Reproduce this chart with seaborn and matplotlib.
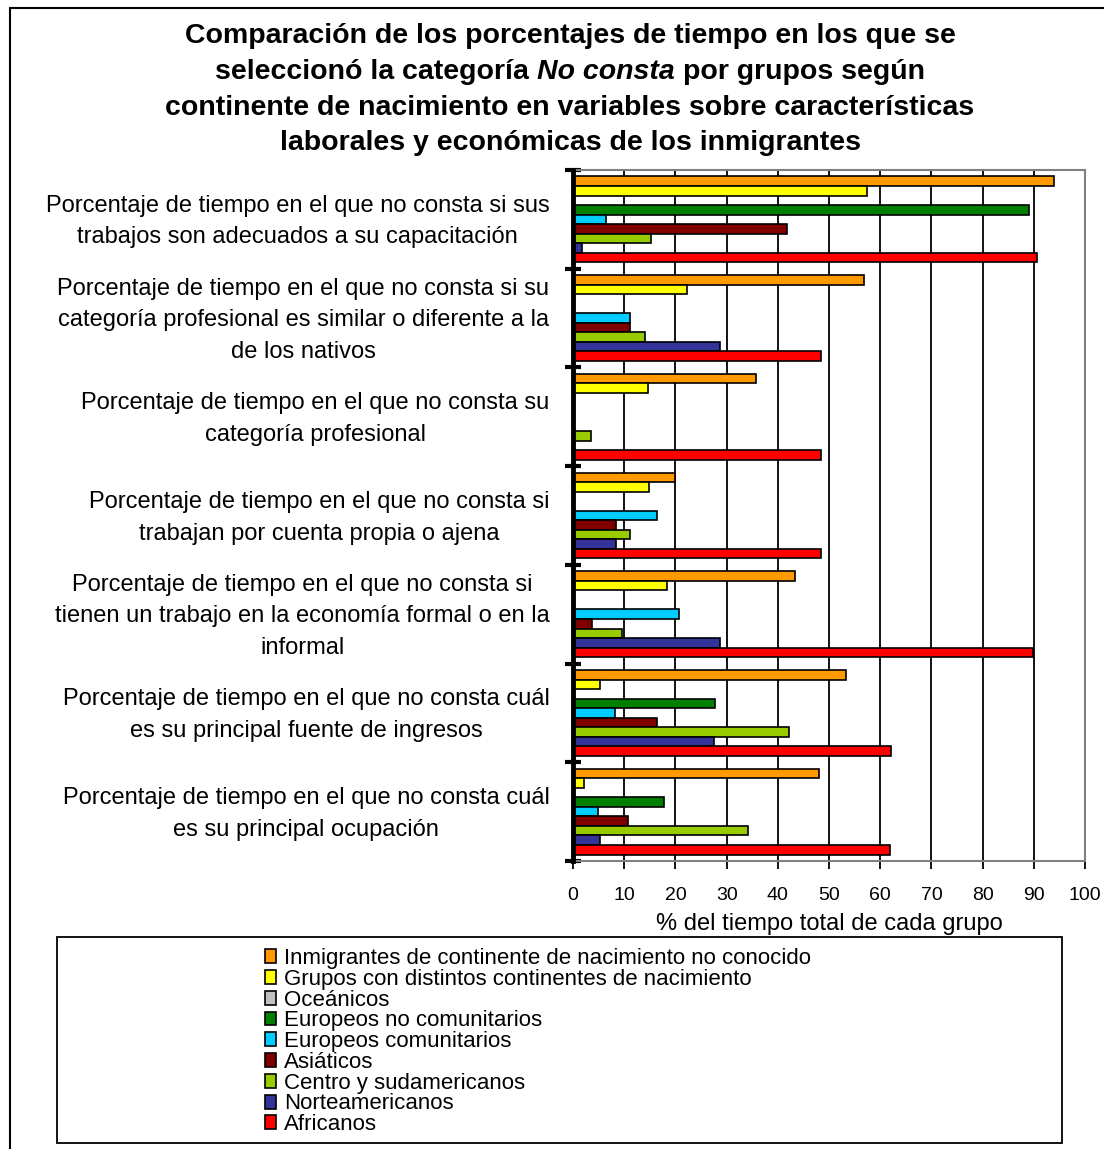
import matplotlib
matplotlib.use("Agg")
import matplotlib.pyplot as plt
import matplotlib.transforms as mtransforms
import seaborn as sns
import pandas as pd
import numpy as np
from matplotlib.patches import Patch, Rectangle
from matplotlib.lines import Line2D

categories = [
    "Porcentaje de tiempo en el que no consta si sus\ntrabajos son adecuados a su capacitación",
    "Porcentaje de tiempo en el que no consta si su\ncategoría profesional es similar o diferente a la\nde los nativos",
    "Porcentaje de tiempo en el que no consta su\ncategoría profesional",
    "Porcentaje de tiempo en el que no consta si\ntrabajan por cuenta propia o ajena",
    "Porcentaje de tiempo en el que no consta si\ntienen un trabajo en la economía formal o en la\ninformal",
    "Porcentaje de tiempo en el que no consta cuál\nes su principal fuente de ingresos",
    "Porcentaje de tiempo en el que no consta cuál\nes su principal ocupación",
]

series = [
    "Inmigrantes de continente de nacimiento no conocido",
    "Grupos con distintos continentes de nacimiento",
    "Oceánicos",
    "Europeos no comunitarios",
    "Europeos comunitarios",
    "Asiáticos",
    "Centro y sudamericanos",
    "Norteamericanos",
    "Africanos",
]

colors = ["#FF9900", "#FFFF00", "#C0C0C0", "#008000", "#00CCFF",
          "#800000", "#99CC00", "#333399", "#FF0000"]

v_no_conocido = [94.0, 56.8, 35.7, 20.0, 43.4, 53.3, 48.0]
v_distintos = [57.5, 22.3, 14.6, 14.9, 18.4, 5.3, 2.2]
v_oceanicos = [0, 0, 0, 0, 0, 0, 0]
v_eur_no_com = [89.1, 0, 0, 0, 0, 27.7, 17.7]
v_eur_com = [6.4, 11.1, 0, 16.5, 20.7, 8.3, 4.8]
v_asiaticos = [41.7, 11.1, 0, 8.4, 3.8, 16.5, 10.7]
v_centro_sud = [15.3, 14.1, 3.5, 11.1, 9.5, 42.1, 34.2]
v_norte = [1.8, 28.7, 0, 8.4, 28.7, 27.5, 5.3]
v_africanos = [90.6, 48.5, 48.5, 48.5, 89.9, 62.1, 61.9]

values = [v_no_conocido, v_distintos, v_oceanicos, v_eur_no_com, v_eur_com,
          v_asiaticos, v_centro_sud, v_norte, v_africanos]

x_ticks = list(range(0, 101, 10))
x_label = "% del tiempo total de cada grupo"
title_lines = [
    "Comparación de los porcentajes de tiempo en los que se",
    None,
    "continente de nacimiento en variables sobre características",
    "laborales y económicas de los inmigrantes",
]
title_line2 = [("seleccionó la categoría", "normal"), ("No consta", "italic"),
               ("por grupos según", "normal")]

rows = []
for s, vals in zip(series, values):
    for c, v in zip(categories, vals):
        rows.append({"categoria": c, "grupo": s, "valor": v})
df = pd.DataFrame(rows)

sns.set_style("white")
plt.rcParams["font.family"] = ["Liberation Sans", "DejaVu Sans"]
plt.rcParams["text.color"] = "black"
plt.rcParams["axes.labelcolor"] = "black"
plt.rcParams["xtick.color"] = "black"
plt.rcParams["ytick.color"] = "black"

W, H = 1104, 1149
fig = plt.figure(figsize=(W / 100, H / 100), dpi=100)
ax = fig.add_axes([573 / W, 1 - 861 / H, (1085 - 573) / W, (861 - 170) / H])

sns.barplot(data=df, x="valor", y="categoria", hue="grupo", order=categories,
            hue_order=series, palette=colors, orient="h", width=0.87,
            edgecolor="black", linewidth=1.2, saturation=1, errorbar=None,
            legend=False, ax=ax)

ax.set_xlim(0, 100)
ax.set_ylim(len(categories) - 0.5, -0.5)
ax.set_xticks(x_ticks)
ax.set_xticklabels([str(t) for t in x_ticks], fontsize=14)
ax.xaxis.grid(True, color="black", linewidth=1.3)
ax.yaxis.grid(False)
ax.set_axisbelow(True)
ax.set_xlabel(x_label, fontsize=17, labelpad=6)
ax.set_ylabel("")

ax.set_yticks(range(len(categories)))
ax.set_yticklabels(categories, fontsize=17, multialignment="center",
                   linespacing=1.56)
ax.set_yticks(np.arange(-0.5, len(categories), 1), minor=True)
ax.tick_params(axis="y", which="major", length=0, pad=17)
ax.tick_params(axis="y", which="minor", length=11, width=3, direction="inout",
               color="black", left=True)
ax.tick_params(axis="x", which="major", length=6, width=1.3, direction="out",
               color="black", bottom=True, pad=13)

shift_up = mtransforms.ScaledTranslation(0, 5 / 100, fig.dpi_scale_trans)
for lab in ax.get_yticklabels():
    lab.set_transform(lab.get_transform() + shift_up)

for side in ["top", "right", "bottom"]:
    ax.spines[side].set_color("#808080")
    ax.spines[side].set_linewidth(1.5)
ax.spines["left"].set_color("black")
ax.spines["left"].set_linewidth(3.5)
ax.spines["left"].set_zorder(5)

# title
TFS = 20.5
cx = 570 / W
ys = [36, 72, 108, 143]
for line, y in zip(title_lines, ys):
    if line is not None:
        fig.text(cx, 1 - y / H, line, ha="center", va="center", fontsize=TFS,
                 fontweight="bold")

renderer = fig.canvas.get_renderer()
def text_width(s, style):
    t = fig.text(0, 0, s, fontsize=TFS, fontweight="bold", fontstyle=style)
    w = t.get_window_extent(renderer).width
    t.remove()
    return w

space = text_width("a a", "normal") - text_width("aa", "normal")
widths = [text_width(s, st) for s, st in title_line2]
total = sum(widths) + space * (len(widths) - 1)
x0 = cx * W - total / 2
for (s, st), w in zip(title_line2, widths):
    fig.text(x0 / W, 1 - ys[1] / H, s, ha="left", va="center", fontsize=TFS,
             fontweight="bold", fontstyle=st)
    x0 += w + space

# legend
handles = [Patch(facecolor=c, edgecolor="black", linewidth=1.2) for c in colors]
fig.legend(handles, series, loc="upper left",
           bbox_to_anchor=(265 / W, 1 - 948 / H), bbox_transform=fig.transFigure,
           frameon=False, fontsize=16, labelspacing=-0.01, handlelength=0.48,
           handleheight=0.58, handletextpad=0.38, borderpad=0, borderaxespad=0)
fig.add_artist(Rectangle((57 / W, 1 - 1143 / H), (1062 - 57) / W, (1143 - 937) / H,
                         transform=fig.transFigure, fill=False, edgecolor="black",
                         linewidth=1.3))

# outer frame
fig.add_artist(Line2D([10 / W, 10 / W], [0, 1 - 8 / H], transform=fig.transFigure,
                      color="black", linewidth=1.5))
fig.add_artist(Line2D([10 / W, 1], [1 - 8 / H, 1 - 8 / H], transform=fig.transFigure,
                      color="black", linewidth=1.5))

fig.savefig("out.png", dpi=100)
